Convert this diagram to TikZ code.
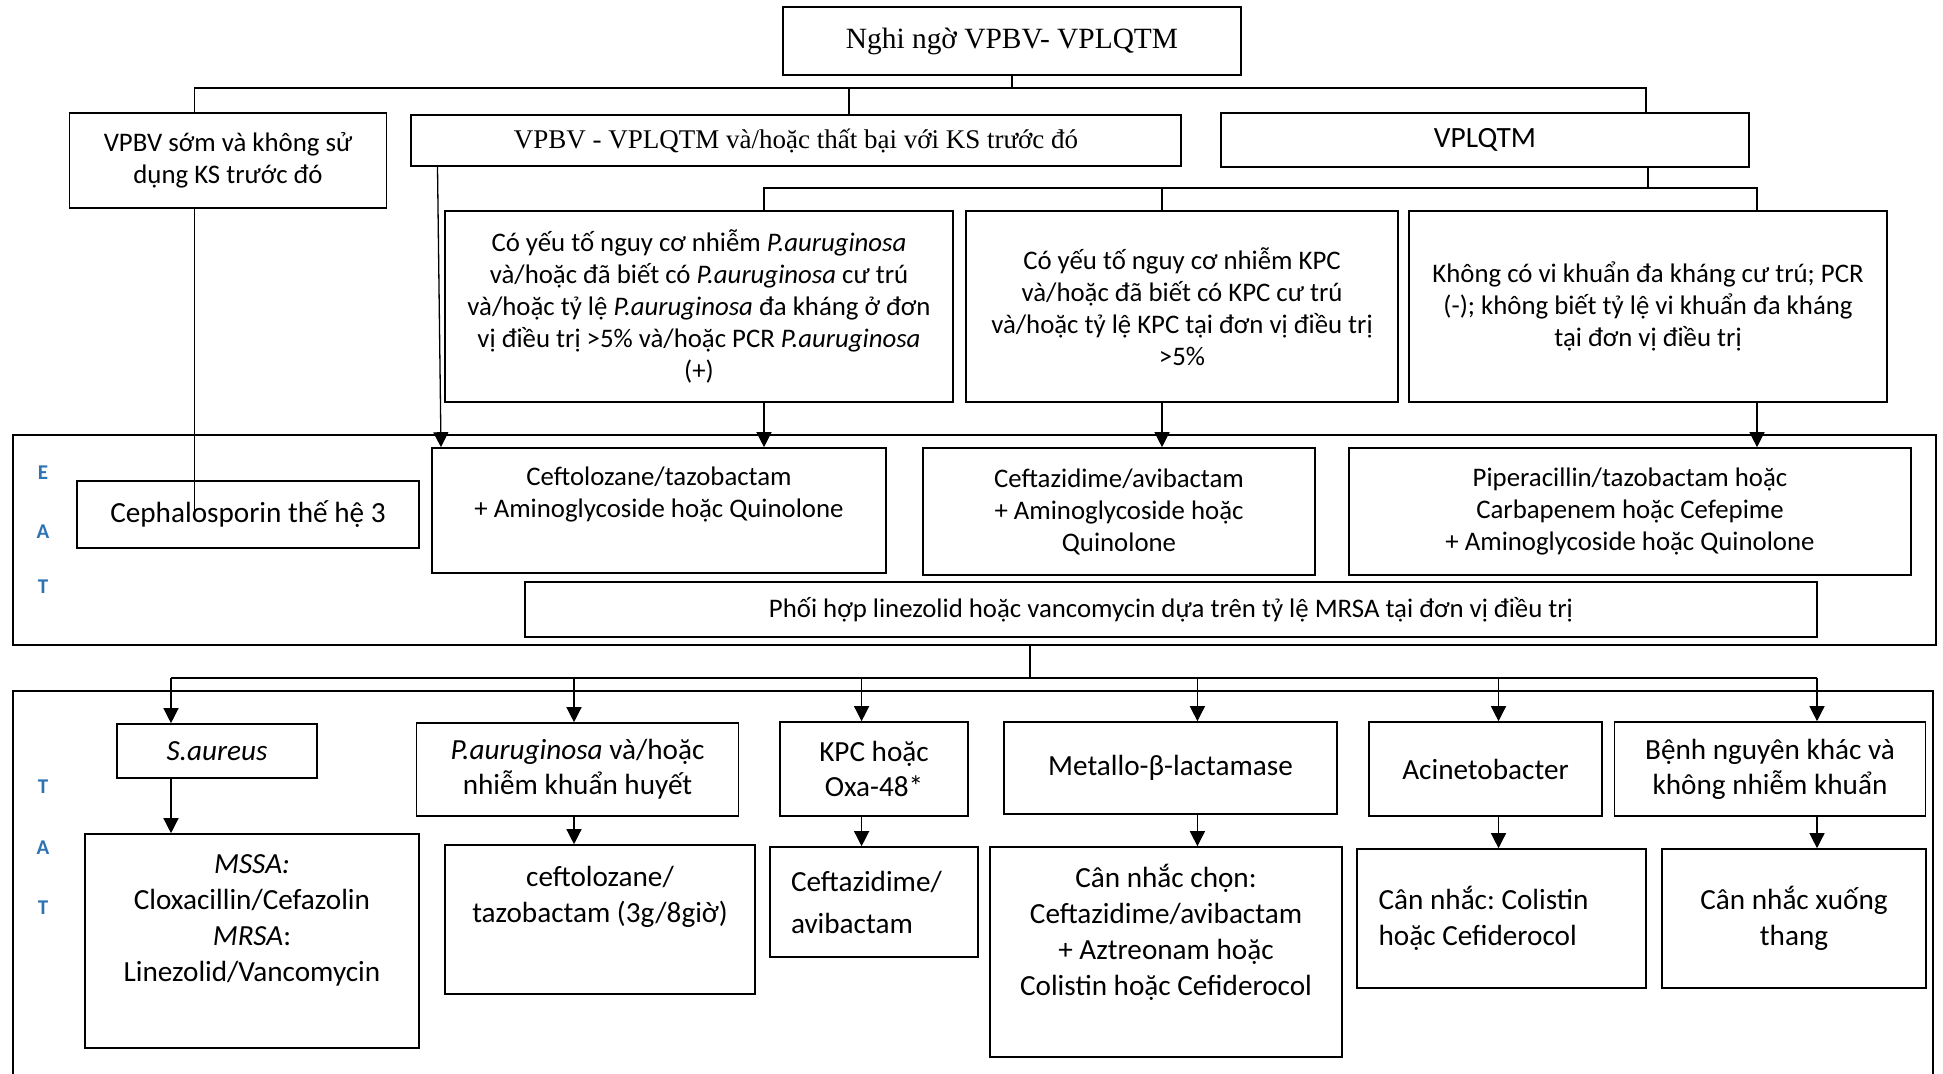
\documentclass[tikz,border=0pt]{standalone}
\usepackage{fontspec}
\setmainfont{Carlito}
\newfontfamily\timesfont{Liberation Serif}
\usepackage{tikz}
\usetikzlibrary{arrows.meta,positioning,calc}
\definecolor{sideblue}{RGB}{46,116,181}
\frenchspacing

\begin{document}
\begin{tikzpicture}[x=0.5pt,y=-0.5pt,thick,
    box/.style={draw,align=center,inner sep=2pt,font=\fontsize{13.4}{16}\selectfont},
    bigbox/.style={box,font=\fontsize{14.6}{17.5}\selectfont},
    tatbox/.style={box,font=\fontsize{14.6}{18}\selectfont},
    link/.style={line width=0.65pt},
    arr/.style={link,-{Triangle[width=7.5pt,length=7.5pt]}},
    side/.style={text=sideblue,font=\fontsize{10.5}{12}\selectfont\bfseries}]
    \path[use as bounding box,fill=white] (0,0) rectangle (1943,1074);

    % upper part
    \node[box,minimum width=229pt,minimum height=34pt,font=\timesfont\fontsize{14.7}{17}\selectfont] (suspect) at (1012,41) {Nghi ngờ VPBV- VPLQTM};
    \node[box,minimum width=158.5pt,minimum height=47.5pt] (early) at (228,160.5) {VPBV sớm và không sử\\dụng KS trước đó};
    \node[box,minimum width=385pt,minimum height=25.5pt,font=\timesfont\fontsize{13.5}{16}\selectfont] (failed) at (796,140.5) {VPBV - VPLQTM và/hoặc thất bại với KS trước đó};
    \node[box,minimum width=264pt,minimum height=27pt,font=\fontsize{14.7}{17}\selectfont] (vap) at (1485,140) {VPLQTM};
    \node[box,minimum width=254pt,minimum height=95.5pt] (riskpa) at (699,306.5) {Có yếu tố nguy cơ nhiễm \textit{P.auruginosa}\\và/hoặc đã biết có \textit{P.auruginosa} cư trú\\và/hoặc tỷ lệ \textit{P.auruginosa} đa kháng ở đơn\\vị điều trị >5\% và/hoặc PCR \textit{P.auruginosa}\\(+)};
    \node[box,minimum width=216pt,minimum height=95.5pt] (riskkpc) at (1182,306.5) {Có yếu tố nguy cơ nhiễm KPC\\và/hoặc đã biết có KPC cư trú\\và/hoặc tỷ lệ KPC tại đơn vị điều trị\\>5\%};
    \node[box,minimum width=239pt,minimum height=95.5pt] (nomdr) at (1648,306.5) {Không có vi khuẩn đa kháng cư trú; PCR\\(-); không biết tỷ lệ vi khuẩn đa kháng\\tại đơn vị điều trị};

    % EAT
    \node[draw,minimum width=961.5pt,minimum height=105pt] (eat) at (974.5,540) {};
    \foreach \l/\y [count=\i] in {E/473,A/532,T/587}
        \node[side] (eat\i) at (43,\y) {\l};
    \node[bigbox,minimum width=171pt,minimum height=33.5pt] (ceph) at (248,514.5) {Cephalosporin thế hệ 3};
    \node[box,minimum width=227pt,minimum height=62.5pt] (ctz) at (659,510.5) {Ceftolozane/tazobactam\\+ Aminoglycoside hoặc Quinolone\\[2pt]\mbox{}};
    \node[box,minimum width=196pt,minimum height=63.5pt] (czaeat) at (1119,511.5) {Ceftazidime/avibactam\\+ Aminoglycoside hoặc\\Quinolone};
    \node[box,minimum width=281pt,minimum height=63.5pt] (pip) at (1630,511.5) {Piperacillin/tazobactam hoặc\\Carbapenem hoặc Cefepime\\+ Aminoglycoside hoặc Quinolone};
    \node[box,minimum width=646pt,minimum height=27.5pt] (mrsa) at (1171,609.5) {Phối hợp linezolid hoặc vancomycin dựa trên tỷ lệ MRSA tại đơn vị điều trị};

    % TAT
    \draw (13,1074) -- (13,691) -- (1933,691) -- (1933,1074);
    \foreach \l/\y [count=\i] in {T/787,A/848,T/908}
        \node[side] (tat\i) at (43,\y) {\l};
    \node[bigbox,minimum width=100pt,minimum height=27pt] (sa) at (217,751) {\textit{S.aureus}};
    \node[bigbox,minimum width=161pt,minimum height=46.5pt] (pa) at (577.5,769.5) {\textit{P.auruginosa} và/hoặc\\nhiễm khuẩn huyết};
    \node[bigbox,minimum width=94pt,minimum height=47pt] (kpc) at (874,769) {KPC hoặc\\Oxa-48*};
    \node[bigbox,minimum width=166.5pt,minimum height=46pt] (mbl) at (1170.5,768) {Metallo-β-lactamase};
    \node[bigbox,minimum width=116.5pt,minimum height=47pt] (acb) at (1485.5,769) {Acinetobacter};
    \node[bigbox,minimum width=155.5pt,minimum height=47pt] (other) at (1770,769) {Bệnh nguyên khác và\\không nhiễm khuẩn};

    \node[tatbox,minimum width=167pt,minimum height=107pt] (mssa) at (252,941) {\textit{MSSA:}\\Cloxacillin/Cefazolin\\\textit{MRSA}:\\Linezolid/Vancomycin\\[4.7pt]\mbox{}};
    \node[tatbox,minimum width=155pt,minimum height=74.5pt] (ctzT) at (600,919.5) {ceftolozane/\\tazobactam (3g/8giờ)\\[7.3pt]\mbox{}};
    \node[tatbox,align=flush left,text width=83pt,inner xsep=10.5pt,minimum height=55pt] (cza) at (874,902) {Ceftazidime/\\[3pt]avibactam};
    \node[tatbox,minimum width=176pt,minimum height=105pt] (mblrx) at (1166,952) {Cân nhắc chọn:\\Ceftazidime/avibactam\\+ Aztreonam hoặc\\Colistin hoặc Cefiderocol\\[4pt]\mbox{}};
    \node[tatbox,align=flush left,text width=122.9pt,inner xsep=10.8pt,minimum height=69.5pt] (acbrx) at (1501.5,918.5) {Cân nhắc: Colistin\\hoặc Cefiderocol};
    \node[tatbox,minimum width=132pt,minimum height=69.5pt] (deesc) at (1794,918.5) {Cân nhắc xuống\\thang};

    % connectors, top
    \coordinate (b1l) at (194.5,88);
    \coordinate (b1m) at (849,88);
    \coordinate (b1r) at (1646,88);
    \draw[link] (suspect) -- (suspect |- b1m);
    \draw[link] (b1l |- early.north) -- (b1l) -- (b1r) -- (b1r |- vap.north);
    \draw[link] (b1m) -- (b1m |- failed.north);
    \coordinate (b2l) at (764,188);
    \coordinate (b2m) at (1162,188);
    \coordinate (b2r) at (1757,188);
    \coordinate (b2v) at (1648,188);
    \draw[link] (b2v |- vap.south) -- (b2v);
    \draw[link] (b2l |- riskpa.north) -- (b2l) -- (b2r) -- (b2r |- nomdr.north);
    \draw[link] (b2m) -- (b2m |- riskkpc.north);

    % into EAT
    \draw[arr] (b2l |- riskpa.south) -- (b2l |- ctz.north);
    \draw[arr] (b2m |- riskkpc.south) -- (b2m |- czaeat.north);
    \draw[arr] (b2r |- nomdr.south) -- (b2r |- pip.north);
    \draw[link] (b1l |- early.south) -- (b1l |- ceph.center);
    \coordinate (fs) at (437.5,0);
    \coordinate (fe) at (441,0);
    \draw[arr] (fs |- failed.south) -- (fe |- ctz.north);

    % into TAT
    \coordinate (b3v) at (1030,678);
    \coordinate (c1) at (171,678);
    \coordinate (c2) at (574,678);
    \coordinate (c3) at (861.6,678);
    \coordinate (c4) at (1197.4,678);
    \coordinate (c5) at (1498.5,678);
    \coordinate (c6) at (1817,678);
    \draw[link] (eat.south -| b3v) -- (b3v);
    \draw[link] (c1) -- (c6);
    \foreach \c/\a/\b in {c1/sa/mssa,c2/pa/ctzT,c3/kpc/cza,c4/mbl/mblrx,c5/acb/acbrx,c6/other/deesc}{
        \draw[arr] (\c) -- (\c |- \a.north);
        \draw[arr] (\c |- \a.south) -- (\c |- \b.north);
    }
\end{tikzpicture}
\end{document}
